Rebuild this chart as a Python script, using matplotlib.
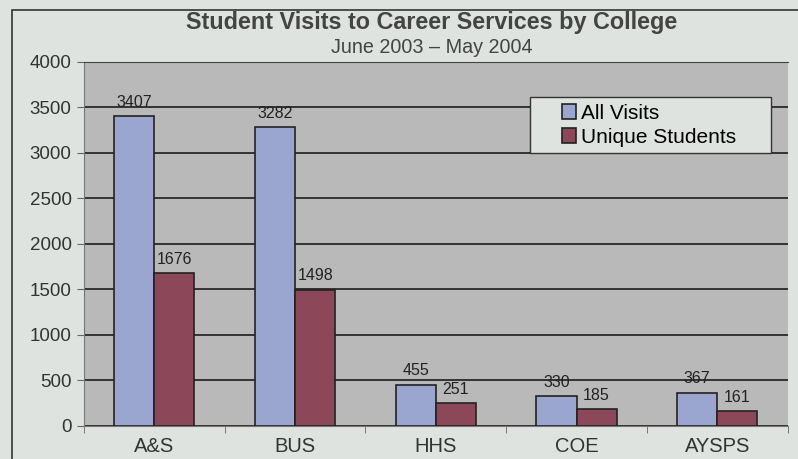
import numpy as np
import matplotlib.pyplot as plt
from matplotlib.patches import Rectangle

colleges = ["A&S", "BUS", "HHS", "COE", "AYSPS"]
all_visits = [3407, 3282, 455, 330, 367]
unique_students = [1676, 1498, 251, 185, 161]

plt.rcParams["font.family"] = ["Liberation Sans", "DejaVu Sans"]

bg = "#dfe3df"
fig = plt.figure(figsize=(7.98, 4.59), dpi=100, facecolor=bg)
ax = fig.add_axes([0.1053, 0.0719, 0.8817, 0.7931])
ax.set_facecolor("#b9b9b9")

# outer chart frame
fig.patches.append(Rectangle((12 / 798, -0.05), 1.0, 1 - 10 / 459 + 0.05,
                             transform=fig.transFigure, fill=False,
                             edgecolor="#333333", linewidth=1.2))

x = np.arange(len(colleges))
w = 0.285
b1 = ax.bar(x - w / 2, all_visits, w, color="#9aa6d0", edgecolor="#222222",
            linewidth=1.2, label="All Visits", zorder=3)
b2 = ax.bar(x + w / 2, unique_students, w, color="#8c4858", edgecolor="#222222",
            linewidth=1.2, label="Unique Students", zorder=3)

for bars in (b1, b2):
    for r in bars:
        ax.text(r.get_x() + r.get_width() / 2, r.get_height() + 70,
                f"{int(r.get_height())}", ha="center", va="bottom",
                fontsize=11.5, color="#222222", zorder=4)

ax.set_xlim(-0.5, len(colleges) - 0.5)
ax.set_ylim(0, 4000)
ax.set_yticks(np.arange(0, 4001, 500))
ax.yaxis.grid(True, color="#333333", linewidth=1.4, zorder=1)
ax.set_axisbelow(True)

ax.set_xticks(x)
ax.set_xticklabels(colleges, fontsize=14.5, color="#333333")
ax.tick_params(axis="x", length=0, pad=8)
ax.set_xticks(np.arange(-0.5, len(colleges)), minor=True)
ax.tick_params(axis="x", which="minor", length=5, color="#666666")
ax.tick_params(axis="y", labelsize=13.5, labelcolor="#333333", length=5,
               color="#666666", pad=4)

for s in ("left", "bottom"):
    ax.spines[s].set_color("#777777")
ax.spines["top"].set_color("#444444")
ax.spines["right"].set_visible(False)

fig.text(0.5414, 0.950, "Student Visits to Career Services by College",
         ha="center", va="center", fontsize=16.8, fontweight="bold",
         color="#444444")
fig.text(0.5414, 0.897, "June 2003 \u2013 May 2004", ha="center",
         va="center", fontsize=14.2, color="#444444")

# legend box (wide, as in the original) drawn separately
ax.add_patch(Rectangle((0.6335, 0.750), 0.3435, 0.154, transform=ax.transAxes,
                       facecolor=bg, edgecolor="#333333", linewidth=1.0,
                       zorder=5))
leg = ax.legend(loc="upper left", bbox_to_anchor=(0.679, 0.885),
                fontsize=15, frameon=False,
                handlelength=0.7, handleheight=0.7, handletextpad=0.2,
                borderpad=0, labelspacing=0.25, borderaxespad=0)
leg.set_zorder(6)

fig.savefig("out.png", dpi=100, facecolor=bg)
